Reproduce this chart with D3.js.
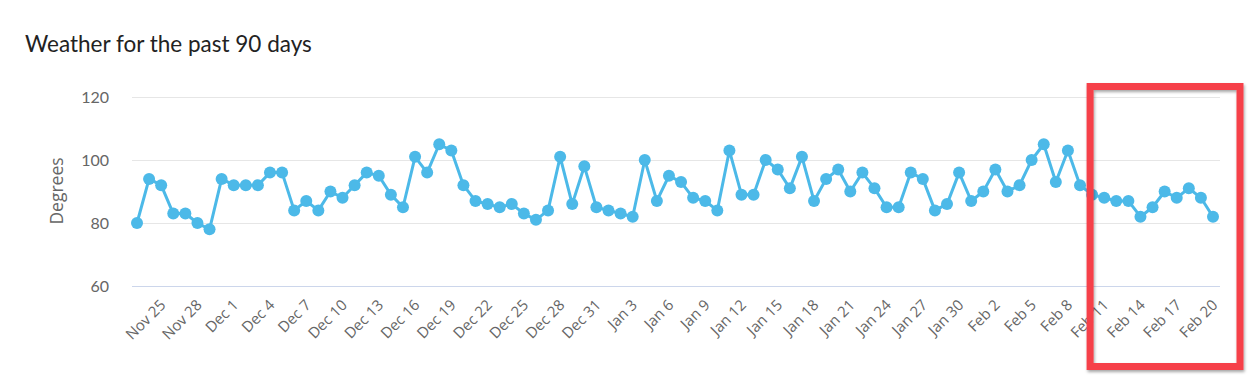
<!DOCTYPE html>
<html>
<head>
<meta charset="utf-8">
<script src="https://cdn.jsdelivr.net/npm/d3@7"></script>
<style>
  body { margin: 0; background: #fff; }
  svg { display: block; }
</style>
</head>
<body>
<svg id="drawing_region"></svg>
<script>
// 90 days ending Feb 20
const days = d3.timeDay.range(new Date(2020, 10, 23), new Date(2021, 1, 21));
const fmt = d3.timeFormat("%b %-d");
const dayLabels = days.map(d => fmt(d));

const temps = [
  80, 94, 92, 83, 83, 80, 78, 94, 92, 92,
  92, 96, 96, 84, 87, 84, 90, 88, 92, 96,
  95, 89, 85, 101, 96, 105, 103, 92, 87, 86,
  85, 86, 83, 81, 84, 101, 86, 98, 85, 84,
  83, 82, 100, 87, 95, 93, 88, 87, 84, 103,
  89, 89, 100, 97, 91, 101, 87, 94, 97, 90,
  96, 91, 85, 85, 96, 94, 84, 86, 96, 87,
  90, 97, 90, 92, 100, 105, 93, 103, 92, 89,
  88, 87, 87, 82, 85, 90, 88, 91, 88, 82
];

const tickLabels = ["Nov 25", "Nov 28", "Dec 1", "Dec 4", "Dec 7", "Dec 10", "Dec 13",
  "Dec 16", "Dec 19", "Dec 22", "Dec 25", "Dec 28", "Dec 31", "Jan 3", "Jan 6", "Jan 9",
  "Jan 12", "Jan 15", "Jan 18", "Jan 21", "Jan 24", "Jan 27", "Jan 30", "Feb 2", "Feb 5",
  "Feb 8", "Feb 11", "Feb 14", "Feb 17", "Feb 20"];
const yTicks = [60, 80, 100, 120];

// highlighted stretch
const highlightFrom = "Feb 10";
const highlightTo = "Feb 20";

const width = 1250, height = 388;
const svg = d3.select('#drawing_region')
    .attr('width', width)
    .attr('height', height);

const defs = svg.append('defs');
const shadow = defs.append('filter').attr('id', 'shadow')
    .attr('x', '-10%').attr('y', '-10%').attr('width', '120%').attr('height', '120%');
shadow.append('feDropShadow')
    .attr('dx', 1).attr('dy', 2).attr('stdDeviation', 1.5)
    .attr('flood-color', '#000').attr('flood-opacity', 0.35);

const plotLeft = 132, plotRight = 1220;
const xscale = d3.scalePoint()
    .domain(dayLabels)
    .range([137, 1213]);

const yscale = d3.scaleLinear()
    .domain([60, 120])
    .range([286, 97]);

// title
svg.append('text')
    .attr('x', 25).attr('y', 52)
    .attr('font-family', 'Lato, sans-serif')
    .attr('font-size', '22.5px')
    .attr('fill', '#222')
    .text('Weather for the past 90 days');

// grid
svg.append('g').selectAll('line')
    .data(yTicks)
    .join('line')
    .attr('x1', plotLeft).attr('x2', plotRight)
    .attr('y1', d => yscale(d) + 0.5).attr('y2', d => yscale(d) + 0.5)
    .attr('stroke', d => d === 60 ? '#ccd6eb' : '#e6e6e6')
    .attr('stroke-width', 1);

// y axis
const yaxis = d3.axisLeft(yscale).tickValues(yTicks).tickSize(0).tickPadding(0);
const yg = svg.append('g')
    .attr('transform', 'translate(109,0)')
    .call(yaxis);
yg.select('.domain').remove();
yg.selectAll('text')
    .attr('font-family', 'Lato, sans-serif')
    .attr('font-size', '16px')
    .attr('fill', '#666');

svg.append('text')
    .attr('transform', 'translate(63,191) rotate(-90)')
    .attr('text-anchor', 'middle')
    .attr('font-family', "'Open Sans', sans-serif")
    .attr('font-size', '17.5px')
    .attr('fill', '#666')
    .text('Degrees');

// x axis
const xaxis = d3.axisBottom(xscale).tickValues(tickLabels).tickSize(0).tickPadding(0);
const xg = svg.append('g')
    .attr('transform', 'translate(0,286)')
    .call(xaxis);
xg.select('.domain').remove();
xg.selectAll('text')
    .attr('font-family', "'Open Sans', sans-serif")
    .attr('font-size', '15px')
    .attr('fill', '#666')
    .attr('text-anchor', 'end')
    .attr('dy', null)
    .attr('y', 0)
    .attr('transform', 'translate(5,20) rotate(-45)');

// series
const line = d3.line()
    .x((d, i) => xscale(dayLabels[i]))
    .y(d => yscale(d));

svg.append('path')
    .datum(temps)
    .attr('d', line)
    .attr('fill', 'none')
    .attr('stroke', '#4cb9e8')
    .attr('stroke-width', 3)
    .attr('stroke-linejoin', 'round');

svg.append('g').selectAll('circle')
    .data(temps)
    .join('circle')
    .attr('cx', (d, i) => xscale(dayLabels[i]))
    .attr('cy', d => yscale(d))
    .attr('r', 6)
    .attr('fill', '#4cb9e8');

// highlight box
const hx0 = xscale(highlightFrom) - 2;
const hx1 = xscale(highlightTo) + 27;
svg.append('rect')
    .attr('x', hx0).attr('y', 86.5)
    .attr('width', hx1 - hx0).attr('height', 280)
    .attr('fill', 'none')
    .attr('stroke', '#f6414a')
    .attr('stroke-width', 7)
    .attr('filter', 'url(#shadow)');
</script>
</body>
</html>
